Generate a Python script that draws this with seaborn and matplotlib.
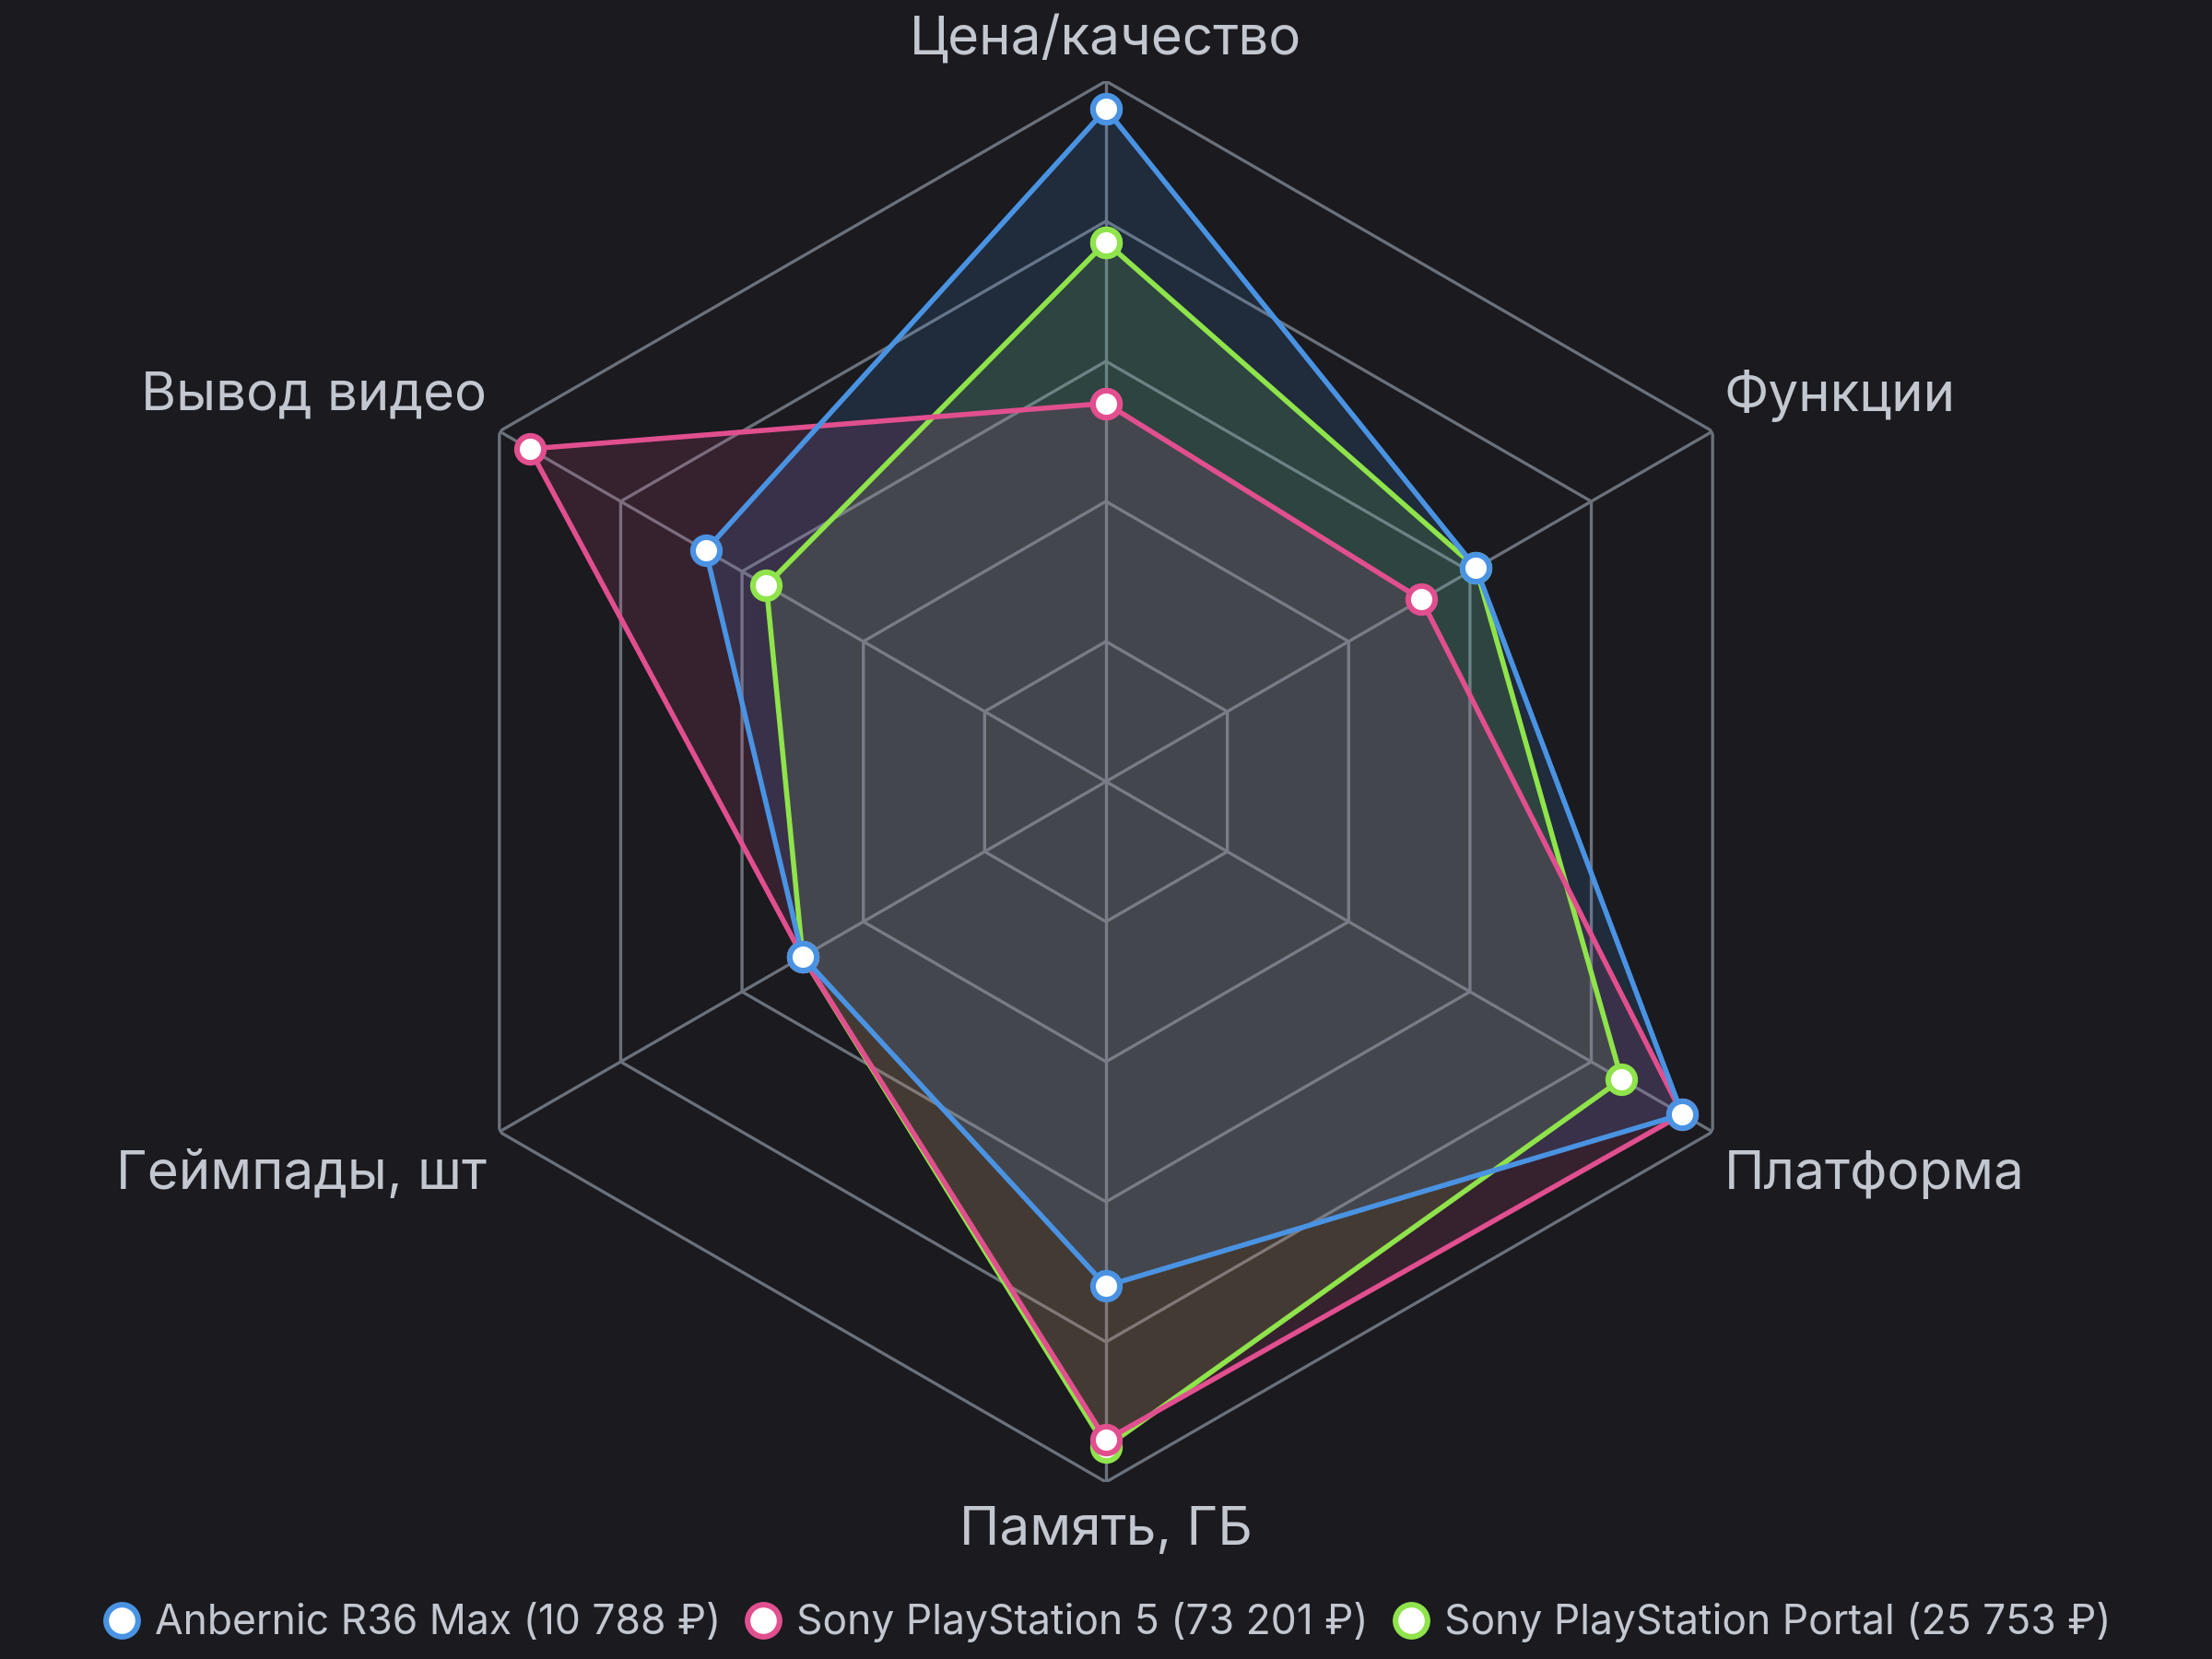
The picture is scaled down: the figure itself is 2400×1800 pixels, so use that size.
import numpy as np
import pandas as pd
import seaborn as sns
import matplotlib.pyplot as plt
from matplotlib.lines import Line2D


# axes go clockwise starting at the top
categories = ['Цена/качество', 'Функции', 'Платформа', 'Память, ГБ', 'Геймпады, шт', 'Вывод видео']

anbernic = [96, 61, 95, 72, 50, 66]
ps5 = [54, 52, 95, 94, 50, 95]
portal = [77, 61, 85, 95, 50, 56]

names = ['Anbernic R36 Max (10 788 ₽)', 'Sony PlayStation 5 (73 201 ₽)', 'Sony PlayStation Portal (25 753 ₽)']
colors = ['#4a93e3', '#e14f8e', '#8fe34b']
grid_levels = [20, 40, 60, 80, 100]

BG = '#1a1a1f'
GRID = '#6b717b'
TEXT = '#c3c7cf'

sns.set_theme(style='dark', rc={'axes.facecolor': BG, 'figure.facecolor': BG})
plt.rcParams['font.family'] = ['Inter', 'DejaVu Sans']

n = len(categories)
angles = np.linspace(0, 2 * np.pi, n, endpoint=False)
angles_closed = np.append(angles, angles[0] + 2 * np.pi)

fig = plt.figure(figsize=(12, 9), dpi=200)
fig.patch.set_facecolor(BG)
ax = fig.add_axes([0.18333, 0.10667, 0.63333, 0.84444], projection='polar')
ax.set_facecolor(BG)
ax.set_theta_offset(np.pi / 2)
ax.set_theta_direction(-1)
ax.set_ylim(0, 100)
ax.grid(False)
ax.spines['polar'].set_visible(False)
ax.set_xticks([])
ax.set_yticks([])

# hexagon web
for lvl in grid_levels:
    ax.plot(angles_closed, [lvl] * (n + 1), color=GRID, lw=1.2, zorder=1)
for a in angles:
    ax.plot([a, a], [0, 100], color=GRID, lw=1.2, zorder=1)

series = [anbernic, ps5, portal]

# fills and lines drawn green -> pink -> blue, so blue ends up on top
for i in [2, 1, 0]:
    vals = series[i]
    ax.fill(angles_closed, vals + [vals[0]], color=colors[i], alpha=0.145, lw=0, zorder=2)

for i in [2, 1, 0]:
    vals = series[i]
    df = pd.DataFrame({'theta': angles_closed, 'value': vals + [vals[0]]})
    sns.lineplot(data=df, x='theta', y='value', sort=False, estimator=None, ax=ax,
                 color=colors[i], lw=2.0, marker='o', markersize=10.5,
                 markerfacecolor='white', markeredgecolor=colors[i], markeredgewidth=2.2,
                 legend=False, zorder=3 + (2 - i))
ax.set_xlabel('')
ax.set_ylabel('')

# category labels
label_pos = [
    ('center', 0, 16),
    ('left', 4.5, 14),
    ('left', 4.5, -17),
    ('center', 0, -19),
    ('right', -4.8, -17),
    ('right', -4.8, 14),
]
for a, txt, (ha, dx, dy) in zip(angles, categories, label_pos):
    ax.annotate(txt, xy=(a, 100), xytext=(dx, dy), textcoords='offset points',
                ha=ha, va='center', fontsize=21, color=TEXT, annotation_clip=False)

handles = [Line2D([], [], ls='none', marker='o', markersize=12.5, markerfacecolor='white',
                  markeredgecolor=c, markeredgewidth=2.2) for c in colors]
leg = fig.legend(handles, names, loc='center', bbox_to_anchor=(0.5, 0.022), ncol=3,
                 frameon=False, fontsize=16, handletextpad=0.3, columnspacing=0.55,
                 handlelength=1.0, labelcolor=TEXT)

fig.savefig('out.png', dpi=200, facecolor=BG)
